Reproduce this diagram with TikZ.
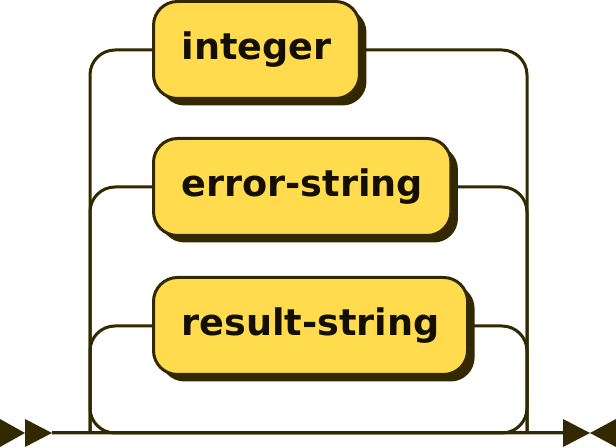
\documentclass[tikz,border=0pt]{standalone}
\usepackage{fontspec}
\setsansfont{DejaVu Sans}
\usepackage{tikz}
\usetikzlibrary{shadows}
\definecolor{rail}{HTML}{332900}
\definecolor{boxfill}{HTML}{FFDB4D}
\definecolor{ink}{HTML}{141000}
\tikzset{
  track/.style={draw=rail, line width=1.5pt, rounded corners=12.5pt},
  nt/.style={draw=rail, fill=boxfill, line width=1.5pt, rounded corners=12pt,
    minimum height=48.5pt, inner xsep=14pt, anchor=west, text=ink,
    font=\sffamily\bfseries\fontsize{18.3}{22}\selectfont,
    drop shadow={shadow xshift=3.5pt, shadow yshift=-3.5pt, fill=rail, opacity=1}},
  arrowhd/.style={fill=rail},
}

\begin{document}
\begin{tikzpicture}[x=0.5pt, y=-0.5pt]
  \useasboundingbox (0,0) rectangle (616,448);
  \coordinate (start) at (52,433);
  \coordinate (stop) at (563,433);
  \coordinate (lrail) at (90,433);
  \coordinate (rrail) at (527,433);
  \node[nt] (integer) at (152,50) {integer};
  \node[nt] (errstr) at (152,187) {error-string};
  \node[nt] (resstr) at (152,326) {result-string};
  % entry and exit
  \fill[arrowhd] (0,419) -- (25,433) -- (0,447) -- cycle;
  \fill[arrowhd] (25,419) -- (start) -- (25,447) -- cycle;
  \fill[arrowhd] (stop) ++(0,-14) -- (590,433) -- ++(-27,14) -- cycle;
  \fill[arrowhd] (616,419) -- (590,433) -- (616,447) -- cycle;
  \draw[track] (start) -- (stop);
  % left rail
  \draw[track] (integer.west) -- (integer.west -| lrail) -- (lrail) -- (stop);
  \draw[track] (errstr.west) -- (errstr.west -| lrail) -- (lrail);
  \draw[track] (resstr.west) -- (resstr.west -| lrail) -- (lrail);
  % right rail
  \draw[track] (integer.east) -- (integer.east -| rrail) -- (rrail) -- (start);
  \draw[track] (errstr.east) -- (errstr.east -| rrail) -- (rrail);
  \draw[track] (resstr.east) -- (resstr.east -| rrail) -- (rrail);
\end{tikzpicture}
\end{document}
